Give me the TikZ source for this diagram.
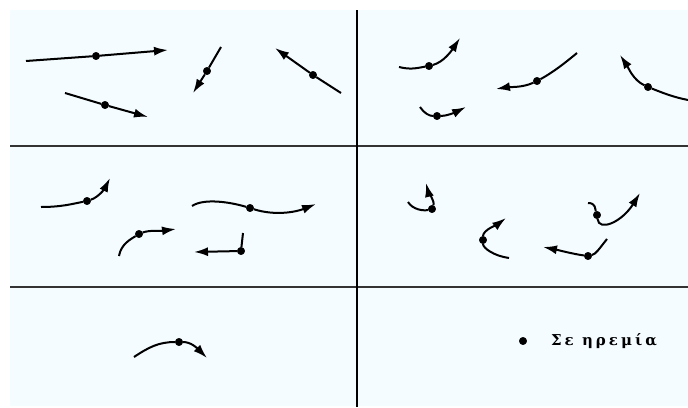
\documentclass[tikz,border=0pt]{standalone}
\usepackage{fontspec}
\usepackage{tikz}
\usetikzlibrary{arrows.meta}
\newfontfamily\greekfont[LetterSpace=20]{DejaVu Serif}
\definecolor{panel}{RGB}{244,252,255}
\tikzstyle{vertex}=[circle, draw=black, fill=black, inner sep=0pt,
minimum size=7.5pt]
\tikzstyle{motion}=[line width=2pt, -{Latex[length=14pt,width=9pt]}]

\begin{document}
\begin{tikzpicture}[x=1pt, y=-1pt]
  % Frame
  \useasboundingbox (0, 0) rectangle (688, 407);
  \fill[panel] (10, 10) rectangle (688, 406);
  \draw[line width=1.2pt, black!80] (10, 146) -- (688, 146);
  \draw[line width=1.2pt, black!80] (10, 287) -- (688, 287);
  \draw[line width=2pt] (357, 10) -- (357, 407);

  % Dots
  \node (1) at (96, 56) [vertex]{};
  \node (2) at (105, 105) [vertex]{};
  \node (3) at (207, 71) [vertex]{};
  \node (4) at (313, 75) [vertex]{};
  \node (5) at (429, 66) [vertex]{};
  \node (6) at (437, 116) [vertex]{};
  \node (7) at (537, 81) [vertex]{};
  \node (8) at (648, 87) [vertex]{};
  \node (9) at (87, 201) [vertex]{};
  \node (10) at (250, 208) [vertex]{};
  \node (11) at (139, 234) [vertex]{};
  \node (12) at (241, 251) [vertex]{};
  \node (13) at (432, 209) [vertex]{};
  \node (14) at (483, 240) [vertex]{};
  \node (15) at (597, 215) [vertex]{};
  \node (16) at (588, 256) [vertex]{};
  \node (17) at (179, 342) [vertex]{};
  \node (0) at (523, 341) [vertex]{};

  % Free ends
  \coordinate (1s) at (26, 61);   \coordinate (1e) at (168, 50);
  \coordinate (2s) at (65, 93);   \coordinate (2e) at (148, 117);
  \coordinate (3s) at (221, 47);  \coordinate (3e) at (193, 93);
  \coordinate (4s) at (341, 93);  \coordinate (4e) at (275, 48);
  \coordinate (5s) at (399, 67);  \coordinate (5e) at (460, 38);
  \coordinate (6s) at (420, 107); \coordinate (6e) at (466, 107);
  \coordinate (7s) at (577, 53);  \coordinate (7e) at (496, 89);
  \coordinate (8s) at (688, 100); \coordinate (8e) at (620, 55);
  \coordinate (9s) at (41, 207);  \coordinate (9e) at (110, 178);
  \coordinate (10s) at (192, 206); \coordinate (10e) at (316, 204);
  \coordinate (11s) at (119, 256); \coordinate (11e) at (176, 229);
  \coordinate (12s) at (243, 233); \coordinate (12e) at (194, 252);
  \coordinate (13s) at (408, 202); \coordinate (13e) at (426, 183);
  \coordinate (14s) at (509, 258); \coordinate (14e) at (506, 218);
  \coordinate (15s) at (588, 203); \coordinate (15e) at (640, 193);
  \coordinate (16s) at (607, 239); \coordinate (16e) at (543, 247);
  \coordinate (17s) at (134, 357); \coordinate (17e) at (207, 358);

  % Straight motions
  \draw[motion] (1s) -- (1) -- (1e);
  \draw[motion] (2s) -- (2) -- (2e);
  \draw[motion] (3s) -- (3) -- (3e);
  \draw[motion] (4s) -- (4) -- (4e);
  \draw[motion] (12s) -- (12) -- (12e);

  % Curved motions
  \draw[motion] (5s) .. controls +(12,3) and +(-12,2) .. (5) .. controls +(15,-4) and +(-8,12) .. (5e);
  \draw[motion] (6s) .. controls +(4,6) and +(-8,0) .. (6) .. controls +(10,0) and +(-10,5) .. (6e);
  \draw[motion] (7s) .. controls +(-12,10) and +(15,-8) .. (7) .. controls +(-15,7) and +(12,-2) .. (7e);
  \draw[motion] (8s) .. controls +(-15,-3) and +(15,6) .. (8) .. controls +(-15,-7) and +(8,12) .. (8e);
  \draw[motion] (9s) .. controls +(20,0) and +(-15,3) .. (9) .. controls +(12,-4) and +(-5,10) .. (9e);
  \draw[motion] (10s) .. controls +(12,-8) and +(-20,-6) .. (10) .. controls +(25,8) and +(-20,8) .. (10e);
  \draw[motion] (11s) .. controls +(2,-12) and +(-8,5) .. (11) .. controls +(10,-4) and +(-15,2) .. (11e);
  \draw[motion] (13s) .. controls +(5,8) and +(-8,2) .. (13) .. controls +(3,-8) and +(2,8) .. (13e);
  \draw[motion] (14s) .. controls +(-15,-2) and +(0,8) .. (14) .. controls +(0,-10) and +(-8,6) .. (14e);
  \draw[motion] (15s) .. controls +(8,0) and +(-2,-6) .. (15) .. controls +(2,17) and +(-18,29) .. (15e);
  \draw[motion] (16s) .. controls +(-8,10) and +(8,-2) .. (16) .. controls +(-15,-2) and +(15,3) .. (16e);
  \draw[motion] (17s) .. controls +(15,-10) and +(-20,0) .. (17) .. controls +(12,0) and +(-10,-10) .. (17e);

  % Label
  \node (rest) at (604, 341) {\fontsize{15}{18}\selectfont\greekfont\bfseries Σε ηρεμία};
\end{tikzpicture}
\end{document}
